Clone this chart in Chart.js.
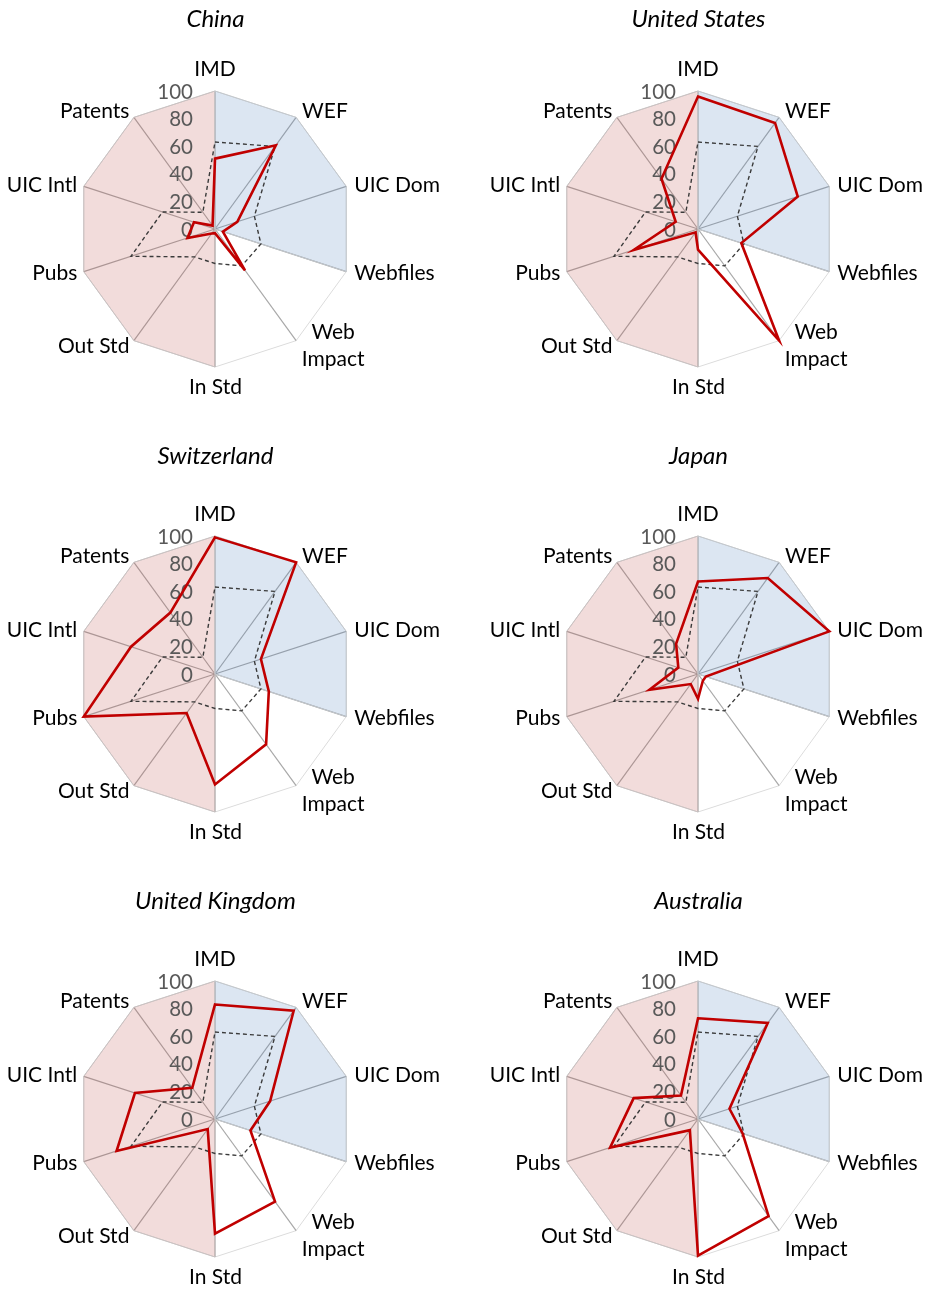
<!DOCTYPE html>
<html>
<head>
<meta charset="utf-8">
<script src="https://cdn.jsdelivr.net/npm/chart.js@4.4.1/dist/chart.umd.min.js"></script>
<style>
  html, body { margin: 0; padding: 0; background: #ffffff; }
  #wrap { position: relative; width: 925px; height: 1291px; overflow: hidden; }
  #wrap canvas { position: absolute; }
  .title {
    position: absolute; width: 300px; text-align: center;
    font: italic 24px Lato, sans-serif; line-height: 28px; color: #000;
  }
</style>
</head>
<body>
<div id="wrap"></div>
<script>
// Indicator axes, clockwise from the top
const categories = ['IMD', 'WEF', 'UIC Dom', 'Webfiles', ['Web', 'Impact'], 'In Std', 'Out Std', 'Pubs', 'UIC Intl', 'Patents'];

// Panel titles
const countries = ['China', 'United States', 'Switzerland', 'Japan', 'United Kingdom', 'Australia'];

// Country scores (0-100) per indicator
const china         = [51, 75, 17,  6,  37,  3,  4,  21, 16,  3];
const unitedStates  = [96, 95, 76, 33, 100, 15,  3,  49, 17, 45];
const switzerland   = [99, 100, 35, 41, 63, 80, 35, 100, 64, 55];
const japan         = [67, 86, 100,  6,  6, 18,  9,  37, 15, 27];
const unitedKingdom = [83, 97, 42, 27,  74, 83,  9,  75, 61, 28];
const australia     = [73, 86, 24, 34,  87, 99, 10,  67, 49, 21];

// Reference profile shown dashed in every panel
const benchmark     = [63, 74, 30, 35, 33, 25, 25, 64, 40, 15];

// Shaded indicator groups
const blueZone = [100, 100, 100, 100, 0, 0, 0, 0, 0, 0];
const pinkZone = [100, 0, 0, 0, 0, 100, 100, 100, 100, 100];

// Radial axis range
const axisMin = 0;
const axisMax = 100;
const axisStep = 20;

const countrySeries = [china, unitedStates, switzerland, japan, unitedKingdom, australia];

const FONT = 'Lato, "Open Sans", sans-serif';

// Where each axis caption sits relative to its outer vertex
const labelPlacement = [
  { align: 'center', dx: 0,    dy: -15 },
  { align: 'left',   dx: 6,    dy: 0.5 },
  { align: 'left',   dx: 8,    dy: 5.5 },
  { align: 'left',   dx: 8,    dy: 8.7 },
  { align: 'center', dx: 37,   dy: -2 },
  { align: 'center', dx: 0.5,  dy: 27 },
  { align: 'right',  dx: -4.5, dy: 12 },
  { align: 'right',  dx: -6.5, dy: 8.7 },
  { align: 'right',  dx: -6.5, dy: 5.5 },
  { align: 'right',  dx: -4.5, dy: 0.8 }
];

// Index of the last shaded group to be painted (tick values go on top of it)
const SHADE_TOP_INDEX = 2;

// Tick values beside the top spoke, plus the axis captions
const radarText = {
  id: 'radarText',
  afterDatasetDraw(chart, args) {
    if (args.index !== SHADE_TOP_INDEX) return;
    const s = chart.scales.r;
    const ctx = chart.ctx;
    ctx.save();
    ctx.font = '20.5px ' + FONT;
    ctx.fillStyle = '#595959';
    ctx.textAlign = 'right';
    ctx.textBaseline = 'middle';
    s.ticks.forEach(t => {
      const d = s.getDistanceFromCenterForValue(t.value);
      ctx.fillText(String(t.value), s.xCenter - 22, s.yCenter - d + 1);
    });
    ctx.restore();
  },
  afterDraw(chart) {
    const s = chart.scales.r;
    const ctx = chart.ctx;
    ctx.save();
    ctx.font = '21px ' + FONT;
    ctx.fillStyle = '#000000';
    ctx.textBaseline = 'alphabetic';
    chart.data.labels.forEach((lab, i) => {
      const p = s.getPointPosition(i, s.drawingArea);
      const pl = labelPlacement[i];
      ctx.textAlign = pl.align;
      const lines = Array.isArray(lab) ? lab : [lab];
      lines.forEach((ln, k) => {
        ctx.fillText(ln, p.x + pl.dx, p.y + pl.dy + k * 27);
      });
    });
    ctx.restore();
  }
};

const wrap = document.getElementById('wrap');
const titleTops = [4, 441, 886];

countries.forEach((name, idx) => {
  const col = idx % 2;
  const row = Math.floor(idx / 2);
  const cw = col === 0 ? 462 : 463;
  const ch = 445;
  const left = col === 0 ? 0 : 462;
  const top = row * 445;
  const padL = col === 0 ? 77 : 98;
  const padT = 91;
  const side = 277;

  const cv = document.createElement('canvas');
  cv.width = cw; cv.height = ch;
  cv.style.left = left + 'px';
  cv.style.top = top + 'px';
  cv.style.width = cw + 'px';
  cv.style.height = ch + 'px';
  wrap.appendChild(cv);

  const t = document.createElement('div');
  t.className = 'title';
  t.textContent = name;
  t.style.left = (left + padL + side / 2 - 150) + 'px';
  t.style.top = titleTops[row] + 'px';
  wrap.appendChild(t);

  new Chart(cv.getContext('2d'), {
    type: 'radar',
    data: {
      labels: categories,
      datasets: [
        {
          label: name,
          data: countrySeries[idx],
          borderColor: '#c00000',
          borderWidth: 2.6,
          borderJoinStyle: 'miter',
          backgroundColor: 'transparent',
          fill: false,
          pointRadius: 0,
          order: 0
        },
        {
          label: 'Benchmark',
          data: benchmark,
          borderColor: '#3a3a3a',
          borderWidth: 1.4,
          borderDash: [4, 3],
          backgroundColor: 'transparent',
          fill: false,
          pointRadius: 0,
          order: 1
        },
        {
          label: 'Group A',
          data: blueZone,
          borderColor: '#c4c8cc',
          borderWidth: 1,
          backgroundColor: 'rgba(79,129,189,0.2)',
          fill: true,
          pointRadius: 0,
          order: 2
        },
        {
          label: 'Group B',
          data: pinkZone,
          borderColor: '#c8c2c2',
          borderWidth: 1,
          backgroundColor: 'rgba(192,80,77,0.2)',
          fill: true,
          pointRadius: 0,
          order: 3
        }
      ]
    },
    options: {
      responsive: false,
      animation: false,
      devicePixelRatio: 1,
      layout: { padding: { left: padL, top: padT, right: cw - padL - side, bottom: ch - padT - side } },
      plugins: { legend: { display: false }, tooltip: { enabled: false } },
      elements: { line: { tension: 0 } },
      scales: {
        r: {
          min: axisMin,
          max: axisMax,
          ticks: { display: false, stepSize: axisStep },
          pointLabels: { display: false },
          angleLines: { color: '#a8a8a8', lineWidth: 1.2 },
          grid: {
            color: ctx => (ctx.tick && ctx.tick.value === axisMax) ? '#dcdcdc' : 'rgba(0,0,0,0)',
            lineWidth: 1
          }
        }
      }
    },
    plugins: [radarText]
  });
});
</script>
</body>
</html>
